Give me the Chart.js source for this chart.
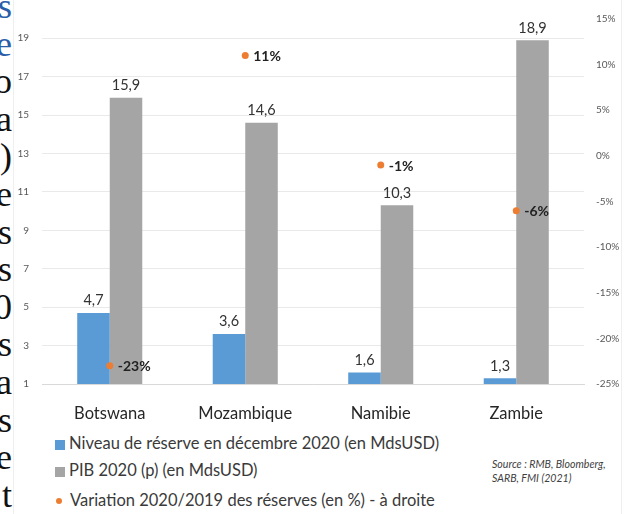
<!DOCTYPE html>
<html>
<head>
<meta charset="utf-8">
<script src="https://cdn.jsdelivr.net/npm/chart.js@4"></script>
<style>
  html, body { margin: 0; padding: 0; background: #fff; }
  body { width: 632px; height: 514px; position: relative; overflow: hidden; font-family: Lato, "Open Sans", sans-serif; }
  #wrap { position: absolute; left: 0; top: 0; width: 632px; height: 430px; }
  .frame { position: absolute; top: 0; height: 514px; width: 1px; background: #efefef; }
  .side { position: absolute; right: 620px; font-family: "Liberation Serif", serif; font-size: 36px; line-height: 38px; color: #111; white-space: pre; text-align: right; }
  .side.blue { color: #2a5ea8; }
  .legend { position: absolute; left: 55px; font-size: 16.5px; color: #3a3a3a; white-space: nowrap; }
  .legend i { display: inline-block; width: 10px; height: 10px; margin-right: 4px; vertical-align: -1px; }
  .legend b.dot { display: inline-block; width: 6px; height: 6px; border-radius: 50%; background: #ed7d31; margin: 0 8px 0 1px; vertical-align: 2px; }
  #src { position: absolute; left: 492px; top: 457px; font-size: 10.6px; line-height: 14px; font-style: italic; color: #404040; }
</style>
</head>
<body>
<div class="frame" style="left:13px"></div>
<div class="frame" style="left:621px"></div>
<div id="side"></div>
<div id="wrap"><canvas id="chart"></canvas></div>
<div class="legend" style="top:433px"><i style="background:#5b9bd5"></i>Niveau de réserve en décembre 2020 (en MdsUSD)</div>
<div class="legend" style="top:460px"><i style="background:#a5a5a5"></i>PIB 2020 (p) (en MdsUSD)</div>
<div class="legend" style="top:490px"><b class="dot"></b>Variation 2020/2019 des réserves (en %) - à droite</div>
<div id="src">Source : RMB, Bloomberg,<br>SARB, FMI (2021)</div>
<script>
const countries = ['Botswana', 'Mozambique', 'Namibie', 'Zambie'];
const reserves = [4.7, 3.6, 1.6, 1.3];
const gdp = [15.9, 14.6, 10.3, 18.9];
const variation = [-23, 11, -1, -6];
const leftTicks = [1, 3, 5, 7, 9, 11, 13, 15, 17, 19];
const rightTicks = [-25, -20, -15, -10, -5, 0, 5, 10, 15];

// letters from the neighbouring text column, cut off at the left edge
const sideLetters = ['s', 'e', 'o', 'a', ')', 'e', 's', 's', '0', 's', 'a', 's', 'e', 't'];
const sideBox = document.getElementById('side');
sideLetters.forEach((ch, i) => {
  const d = document.createElement('div');
  d.className = 'side' + (i < 2 ? ' blue' : '');
  d.style.top = (-13 + i * 37.6) + 'px';
  d.textContent = ch;
  sideBox.appendChild(d);
});

const fmt = v => String(v).replace('.', ',');

const valueLabels = {
  id: 'valueLabels',
  afterDatasetsDraw(chart) {
    const ctx = chart.ctx;
    ctx.save();
    chart.data.datasets.forEach((ds, i) => {
      const meta = chart.getDatasetMeta(i);
      meta.data.forEach((el, j) => {
        if (ds.type === 'line') {
          ctx.font = 'bold 14px Lato';
          ctx.fillStyle = '#222';
          ctx.textAlign = 'left';
          ctx.textBaseline = 'middle';
          ctx.fillText(ds.data[j] + '%', el.x + 8, el.y + 1);
        } else {
          ctx.font = '14.5px Lato';
          ctx.fillStyle = '#333';
          ctx.textAlign = 'center';
          ctx.textBaseline = 'bottom';
          ctx.fillText(fmt(ds.data[j]), el.x, el.y - 5);
        }
      });
    });
    ctx.restore();
  }
};

new Chart(document.getElementById('chart'), {
  data: {
    labels: countries,
    datasets: [
      {
        type: 'line',
        label: 'Variation 2020/2019 des réserves (en %) - à droite',
        data: variation,
        yAxisID: 'y1',
        showLine: false,
        pointRadius: 3.5,
        pointBackgroundColor: '#ed7d31',
        pointBorderWidth: 0
      },
      {
        type: 'bar',
        label: 'Niveau de réserve en décembre 2020 (en MdsUSD)',
        data: reserves,
        yAxisID: 'y',
        backgroundColor: '#5b9bd5',
        categoryPercentage: 0.48,
        barPercentage: 1
      },
      {
        type: 'bar',
        label: 'PIB 2020 (p) (en MdsUSD)',
        data: gdp,
        yAxisID: 'y',
        backgroundColor: '#a5a5a5',
        categoryPercentage: 0.48,
        barPercentage: 1
      }
    ]
  },
  options: {
    responsive: true,
    maintainAspectRatio: false,
    animation: false,
    layout: { padding: { top: 17, left: 0, right: 0, bottom: 0 } },
    plugins: { legend: { display: false }, tooltip: { enabled: false } },
    scales: {
      x: {
        grid: { display: false },
        border: { color: '#d9d9d9' },
        ticks: { color: '#262626', font: { family: 'Lato', size: 16.5 }, padding: 12 },
        afterFit: s => { s.height = 46; }
      },
      y: {
        position: 'left',
        min: 1,
        max: 20,
        afterBuildTicks: s => { s.ticks = leftTicks.map(v => ({ value: v })); },
        grid: { color: '#e9e9e9', drawTicks: false },
        border: { display: false },
        ticks: { color: '#595959', font: { family: 'Lato', size: 10 }, padding: 13 },
        afterFit: s => { s.width = 42; }
      },
      y1: {
        position: 'right',
        min: -25,
        max: 15,
        afterBuildTicks: s => { s.ticks = rightTicks.map(v => ({ value: v })); },
        grid: { drawOnChartArea: false, drawTicks: false },
        border: { display: false },
        ticks: { color: '#595959', font: { family: 'Lato', size: 10 }, padding: 12, callback: v => v + '%' },
        afterFit: s => { s.width = 48; }
      }
    }
  },
  plugins: [valueLabels]
});
</script>
</body>
</html>
